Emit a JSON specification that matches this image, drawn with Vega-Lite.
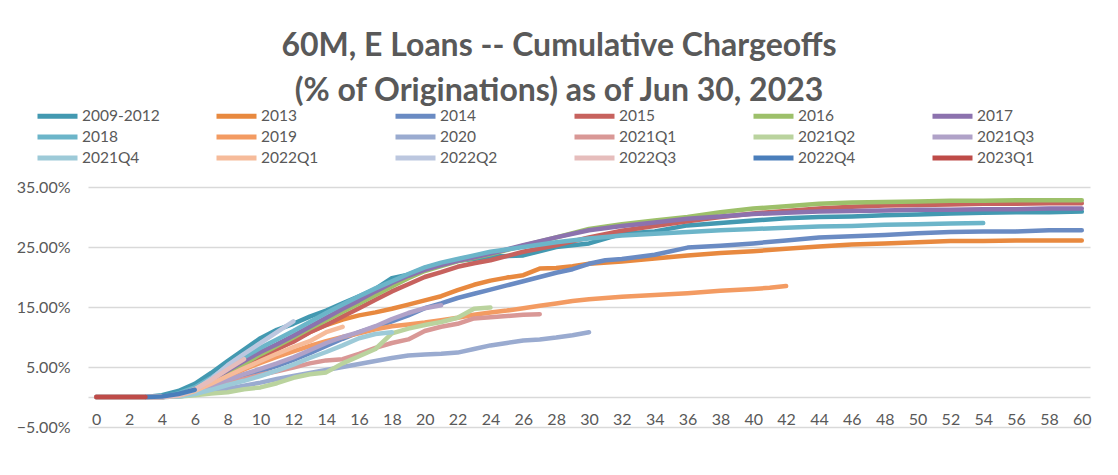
{
"$schema": "https://vega.github.io/schema/vega-lite/v6.json",
"width": 1002, "height": 240,
"autosize": {"type": "none"},
"padding": {"left": 88, "top": 187, "right": 28, "bottom": 48},
"background": "white",
"title": {"text": ["60M, E Loans -- Cumulative Chargeoffs", "(% of Originations) as of Jun 30, 2023"], "font": "Lato", "fontSize": 32, "fontWeight": "bold", "color": "#595959", "lineHeight": 45, "anchor": "middle", "offset": 0, "dx": -30},
"datasets": {
"d": [
{"series":"2009-2012","month":0,"pct":0},{"series":"2009-2012","month":3,"pct":0},{"series":"2009-2012","month":4,"pct":0.3},{"series":"2009-2012","month":5,"pct":1.0},{"series":"2009-2012","month":6,"pct":2.2},{"series":"2009-2012","month":7,"pct":4.0},{"series":"2009-2012","month":8,"pct":6.0},{"series":"2009-2012","month":9,"pct":7.9},{"series":"2009-2012","month":10,"pct":9.8},{"series":"2009-2012","month":11,"pct":11.2},{"series":"2009-2012","month":12,"pct":12.2},{"series":"2009-2012","month":13,"pct":13.4},{"series":"2009-2012","month":14,"pct":14.4},{"series":"2009-2012","month":15,"pct":15.6},{"series":"2009-2012","month":16,"pct":16.8},{"series":"2009-2012","month":17,"pct":18.0},{"series":"2009-2012","month":18,"pct":19.8},{"series":"2009-2012","month":19,"pct":20.4},{"series":"2009-2012","month":20,"pct":21.5},{"series":"2009-2012","month":21,"pct":22.2},{"series":"2009-2012","month":22,"pct":22.7},{"series":"2009-2012","month":23,"pct":23.0},{"series":"2009-2012","month":24,"pct":23.4},{"series":"2009-2012","month":26,"pct":23.6},{"series":"2009-2012","month":28,"pct":25.0},{"series":"2009-2012","month":30,"pct":25.6},{"series":"2009-2012","month":31,"pct":26.4},{"series":"2009-2012","month":32,"pct":27.2},{"series":"2009-2012","month":34,"pct":27.6},{"series":"2009-2012","month":36,"pct":28.6},{"series":"2009-2012","month":38,"pct":29.0},{"series":"2009-2012","month":40,"pct":29.4},{"series":"2009-2012","month":42,"pct":29.8},{"series":"2009-2012","month":44,"pct":30.0},{"series":"2009-2012","month":46,"pct":30.1},{"series":"2009-2012","month":48,"pct":30.3},{"series":"2009-2012","month":50,"pct":30.4},{"series":"2009-2012","month":52,"pct":30.6},{"series":"2009-2012","month":54,"pct":30.7},{"series":"2009-2012","month":56,"pct":30.8},{"series":"2009-2012","month":58,"pct":30.8},{"series":"2009-2012","month":60,"pct":30.9},
{"series":"2013","month":0,"pct":0},{"series":"2013","month":4,"pct":0},{"series":"2013","month":5,"pct":0.3},{"series":"2013","month":6,"pct":1.0},{"series":"2013","month":7,"pct":2.3},{"series":"2013","month":8,"pct":3.7},{"series":"2013","month":9,"pct":5.1},{"series":"2013","month":10,"pct":6.5},{"series":"2013","month":11,"pct":7.9},{"series":"2013","month":12,"pct":9.4},{"series":"2013","month":13,"pct":10.8},{"series":"2013","month":14,"pct":12.0},{"series":"2013","month":15,"pct":12.9},{"series":"2013","month":16,"pct":13.6},{"series":"2013","month":17,"pct":14.1},{"series":"2013","month":18,"pct":14.7},{"series":"2013","month":19,"pct":15.4},{"series":"2013","month":20,"pct":16.1},{"series":"2013","month":21,"pct":16.8},{"series":"2013","month":22,"pct":17.8},{"series":"2013","month":23,"pct":18.7},{"series":"2013","month":24,"pct":19.4},{"series":"2013","month":25,"pct":19.9},{"series":"2013","month":26,"pct":20.3},{"series":"2013","month":27,"pct":21.4},{"series":"2013","month":28,"pct":21.5},{"series":"2013","month":29,"pct":21.8},{"series":"2013","month":30,"pct":22.2},{"series":"2013","month":32,"pct":22.6},{"series":"2013","month":34,"pct":23.1},{"series":"2013","month":36,"pct":23.6},{"series":"2013","month":38,"pct":24.0},{"series":"2013","month":40,"pct":24.3},{"series":"2013","month":42,"pct":24.7},{"series":"2013","month":44,"pct":25.1},{"series":"2013","month":46,"pct":25.4},{"series":"2013","month":48,"pct":25.6},{"series":"2013","month":50,"pct":25.8},{"series":"2013","month":52,"pct":26.0},{"series":"2013","month":54,"pct":26.0},{"series":"2013","month":56,"pct":26.1},{"series":"2013","month":58,"pct":26.1},{"series":"2013","month":60,"pct":26.1},
{"series":"2014","month":0,"pct":0},{"series":"2014","month":4,"pct":0},{"series":"2014","month":5,"pct":0.2},{"series":"2014","month":6,"pct":0.7},{"series":"2014","month":7,"pct":1.5},{"series":"2014","month":8,"pct":2.5},{"series":"2014","month":9,"pct":3.4},{"series":"2014","month":10,"pct":4.3},{"series":"2014","month":11,"pct":5.2},{"series":"2014","month":12,"pct":6.2},{"series":"2014","month":13,"pct":7.3},{"series":"2014","month":14,"pct":8.5},{"series":"2014","month":15,"pct":9.7},{"series":"2014","month":16,"pct":10.8},{"series":"2014","month":17,"pct":11.7},{"series":"2014","month":18,"pct":12.6},{"series":"2014","month":19,"pct":13.6},{"series":"2014","month":20,"pct":14.8},{"series":"2014","month":21,"pct":15.6},{"series":"2014","month":22,"pct":16.5},{"series":"2014","month":23,"pct":17.2},{"series":"2014","month":24,"pct":17.9},{"series":"2014","month":25,"pct":18.6},{"series":"2014","month":26,"pct":19.3},{"series":"2014","month":27,"pct":20.0},{"series":"2014","month":28,"pct":20.7},{"series":"2014","month":29,"pct":21.3},{"series":"2014","month":30,"pct":22.2},{"series":"2014","month":31,"pct":22.8},{"series":"2014","month":32,"pct":23.0},{"series":"2014","month":34,"pct":23.7},{"series":"2014","month":36,"pct":24.9},{"series":"2014","month":38,"pct":25.2},{"series":"2014","month":40,"pct":25.6},{"series":"2014","month":42,"pct":26.1},{"series":"2014","month":44,"pct":26.6},{"series":"2014","month":46,"pct":26.8},{"series":"2014","month":48,"pct":27.0},{"series":"2014","month":50,"pct":27.3},{"series":"2014","month":52,"pct":27.5},{"series":"2014","month":54,"pct":27.6},{"series":"2014","month":56,"pct":27.6},{"series":"2014","month":58,"pct":27.8},{"series":"2014","month":60,"pct":27.8},
{"series":"2015","month":0,"pct":0},{"series":"2015","month":4,"pct":0},{"series":"2015","month":5,"pct":0.3},{"series":"2015","month":6,"pct":1.0},{"series":"2015","month":7,"pct":2.5},{"series":"2015","month":8,"pct":4.0},{"series":"2015","month":9,"pct":5.5},{"series":"2015","month":10,"pct":6.8},{"series":"2015","month":11,"pct":8.0},{"series":"2015","month":12,"pct":9.2},{"series":"2015","month":13,"pct":10.8},{"series":"2015","month":14,"pct":12.0},{"series":"2015","month":15,"pct":13.4},{"series":"2015","month":16,"pct":14.8},{"series":"2015","month":17,"pct":16.2},{"series":"2015","month":18,"pct":17.6},{"series":"2015","month":19,"pct":18.8},{"series":"2015","month":20,"pct":20.0},{"series":"2015","month":21,"pct":20.8},{"series":"2015","month":22,"pct":21.7},{"series":"2015","month":23,"pct":22.3},{"series":"2015","month":24,"pct":22.8},{"series":"2015","month":26,"pct":24.2},{"series":"2015","month":28,"pct":25.3},{"series":"2015","month":30,"pct":26.6},{"series":"2015","month":32,"pct":27.7},{"series":"2015","month":34,"pct":28.5},{"series":"2015","month":36,"pct":29.3},{"series":"2015","month":38,"pct":30.0},{"series":"2015","month":40,"pct":30.6},{"series":"2015","month":42,"pct":31.0},{"series":"2015","month":44,"pct":31.4},{"series":"2015","month":46,"pct":31.7},{"series":"2015","month":48,"pct":31.9},{"series":"2015","month":50,"pct":32.0},{"series":"2015","month":52,"pct":32.1},{"series":"2015","month":54,"pct":32.2},{"series":"2015","month":56,"pct":32.2},{"series":"2015","month":58,"pct":32.3},{"series":"2015","month":60,"pct":32.3},
{"series":"2016","month":0,"pct":0},{"series":"2016","month":4,"pct":0},{"series":"2016","month":5,"pct":0.3},{"series":"2016","month":6,"pct":1.0},{"series":"2016","month":7,"pct":2.4},{"series":"2016","month":8,"pct":4.0},{"series":"2016","month":9,"pct":5.5},{"series":"2016","month":10,"pct":7.1},{"series":"2016","month":11,"pct":8.5},{"series":"2016","month":12,"pct":9.9},{"series":"2016","month":13,"pct":11.4},{"series":"2016","month":14,"pct":12.8},{"series":"2016","month":15,"pct":14.2},{"series":"2016","month":16,"pct":15.6},{"series":"2016","month":17,"pct":17.0},{"series":"2016","month":18,"pct":18.4},{"series":"2016","month":19,"pct":19.8},{"series":"2016","month":20,"pct":21.0},{"series":"2016","month":21,"pct":21.8},{"series":"2016","month":22,"pct":22.6},{"series":"2016","month":23,"pct":23.2},{"series":"2016","month":24,"pct":23.8},{"series":"2016","month":26,"pct":25.2},{"series":"2016","month":28,"pct":26.6},{"series":"2016","month":30,"pct":28.0},{"series":"2016","month":32,"pct":28.8},{"series":"2016","month":34,"pct":29.4},{"series":"2016","month":36,"pct":30.0},{"series":"2016","month":38,"pct":30.8},{"series":"2016","month":40,"pct":31.4},{"series":"2016","month":42,"pct":31.8},{"series":"2016","month":44,"pct":32.2},{"series":"2016","month":46,"pct":32.4},{"series":"2016","month":48,"pct":32.5},{"series":"2016","month":50,"pct":32.6},{"series":"2016","month":52,"pct":32.7},{"series":"2016","month":54,"pct":32.7},{"series":"2016","month":56,"pct":32.8},{"series":"2016","month":58,"pct":32.8},{"series":"2016","month":60,"pct":32.8},
{"series":"2017","month":0,"pct":0},{"series":"2017","month":4,"pct":0},{"series":"2017","month":5,"pct":0.4},{"series":"2017","month":6,"pct":1.2},{"series":"2017","month":7,"pct":2.8},{"series":"2017","month":8,"pct":4.4},{"series":"2017","month":9,"pct":6.0},{"series":"2017","month":10,"pct":7.5},{"series":"2017","month":11,"pct":8.8},{"series":"2017","month":12,"pct":10.2},{"series":"2017","month":13,"pct":11.7},{"series":"2017","month":14,"pct":13.2},{"series":"2017","month":15,"pct":14.7},{"series":"2017","month":16,"pct":16.1},{"series":"2017","month":17,"pct":17.6},{"series":"2017","month":18,"pct":19.0},{"series":"2017","month":19,"pct":20.2},{"series":"2017","month":20,"pct":21.2},{"series":"2017","month":21,"pct":22.0},{"series":"2017","month":22,"pct":22.7},{"series":"2017","month":23,"pct":23.3},{"series":"2017","month":24,"pct":23.9},{"series":"2017","month":26,"pct":25.3},{"series":"2017","month":28,"pct":26.6},{"series":"2017","month":30,"pct":27.8},{"series":"2017","month":32,"pct":28.5},{"series":"2017","month":34,"pct":29.1},{"series":"2017","month":36,"pct":29.7},{"series":"2017","month":38,"pct":30.1},{"series":"2017","month":40,"pct":30.5},{"series":"2017","month":42,"pct":30.7},{"series":"2017","month":44,"pct":30.9},{"series":"2017","month":46,"pct":31.0},{"series":"2017","month":48,"pct":31.1},{"series":"2017","month":50,"pct":31.2},{"series":"2017","month":52,"pct":31.2},{"series":"2017","month":54,"pct":31.3},{"series":"2017","month":56,"pct":31.3},{"series":"2017","month":58,"pct":31.4},{"series":"2017","month":60,"pct":31.4},
{"series":"2018","month":0,"pct":0},{"series":"2018","month":4,"pct":0},{"series":"2018","month":5,"pct":0.6},{"series":"2018","month":6,"pct":1.6},{"series":"2018","month":7,"pct":3.2},{"series":"2018","month":8,"pct":5.0},{"series":"2018","month":9,"pct":6.6},{"series":"2018","month":10,"pct":8.2},{"series":"2018","month":11,"pct":9.6},{"series":"2018","month":12,"pct":11.0},{"series":"2018","month":13,"pct":12.5},{"series":"2018","month":14,"pct":14.0},{"series":"2018","month":15,"pct":15.4},{"series":"2018","month":16,"pct":16.8},{"series":"2018","month":17,"pct":18.1},{"series":"2018","month":18,"pct":19.3},{"series":"2018","month":19,"pct":20.5},{"series":"2018","month":20,"pct":21.6},{"series":"2018","month":21,"pct":22.4},{"series":"2018","month":22,"pct":23.0},{"series":"2018","month":23,"pct":23.6},{"series":"2018","month":24,"pct":24.2},{"series":"2018","month":26,"pct":25.0},{"series":"2018","month":28,"pct":25.8},{"series":"2018","month":30,"pct":26.4},{"series":"2018","month":32,"pct":26.9},{"series":"2018","month":34,"pct":27.2},{"series":"2018","month":36,"pct":27.5},{"series":"2018","month":38,"pct":27.8},{"series":"2018","month":40,"pct":28.0},{"series":"2018","month":42,"pct":28.2},{"series":"2018","month":44,"pct":28.4},{"series":"2018","month":46,"pct":28.5},{"series":"2018","month":48,"pct":28.7},{"series":"2018","month":50,"pct":28.8},{"series":"2018","month":52,"pct":28.9},{"series":"2018","month":54,"pct":29.0},
{"series":"2019","month":0,"pct":0},{"series":"2019","month":4,"pct":0},{"series":"2019","month":5,"pct":0.2},{"series":"2019","month":6,"pct":0.9},{"series":"2019","month":7,"pct":2.1},{"series":"2019","month":8,"pct":3.4},{"series":"2019","month":9,"pct":4.6},{"series":"2019","month":10,"pct":5.7},{"series":"2019","month":11,"pct":6.7},{"series":"2019","month":12,"pct":7.6},{"series":"2019","month":13,"pct":8.5},{"series":"2019","month":14,"pct":9.3},{"series":"2019","month":15,"pct":10.0},{"series":"2019","month":16,"pct":10.6},{"series":"2019","month":17,"pct":11.3},{"series":"2019","month":18,"pct":11.8},{"series":"2019","month":19,"pct":12.1},{"series":"2019","month":20,"pct":12.4},{"series":"2019","month":21,"pct":12.8},{"series":"2019","month":22,"pct":13.2},{"series":"2019","month":23,"pct":13.7},{"series":"2019","month":24,"pct":14.1},{"series":"2019","month":25,"pct":14.4},{"series":"2019","month":26,"pct":14.8},{"series":"2019","month":27,"pct":15.2},{"series":"2019","month":28,"pct":15.6},{"series":"2019","month":29,"pct":16.0},{"series":"2019","month":30,"pct":16.3},{"series":"2019","month":32,"pct":16.7},{"series":"2019","month":34,"pct":17.0},{"series":"2019","month":36,"pct":17.3},{"series":"2019","month":38,"pct":17.7},{"series":"2019","month":40,"pct":18.0},{"series":"2019","month":41,"pct":18.2},{"series":"2019","month":42,"pct":18.5},
{"series":"2020","month":0,"pct":0},{"series":"2020","month":4,"pct":0},{"series":"2020","month":5,"pct":0.1},{"series":"2020","month":6,"pct":0.4},{"series":"2020","month":7,"pct":0.9},{"series":"2020","month":8,"pct":1.4},{"series":"2020","month":9,"pct":1.9},{"series":"2020","month":10,"pct":2.4},{"series":"2020","month":11,"pct":3.0},{"series":"2020","month":12,"pct":3.5},{"series":"2020","month":13,"pct":4.0},{"series":"2020","month":14,"pct":4.5},{"series":"2020","month":15,"pct":5.0},{"series":"2020","month":16,"pct":5.5},{"series":"2020","month":17,"pct":6.0},{"series":"2020","month":18,"pct":6.5},{"series":"2020","month":19,"pct":6.9},{"series":"2020","month":20,"pct":7.1},{"series":"2020","month":21,"pct":7.2},{"series":"2020","month":22,"pct":7.4},{"series":"2020","month":23,"pct":8.0},{"series":"2020","month":24,"pct":8.6},{"series":"2020","month":25,"pct":9.0},{"series":"2020","month":26,"pct":9.4},{"series":"2020","month":27,"pct":9.6},{"series":"2020","month":28,"pct":9.9},{"series":"2020","month":29,"pct":10.3},{"series":"2020","month":30,"pct":10.8},
{"series":"2021Q1","month":0,"pct":0},{"series":"2021Q1","month":4,"pct":0},{"series":"2021Q1","month":5,"pct":0.2},{"series":"2021Q1","month":6,"pct":0.7},{"series":"2021Q1","month":7,"pct":1.5},{"series":"2021Q1","month":8,"pct":2.3},{"series":"2021Q1","month":9,"pct":3.0},{"series":"2021Q1","month":10,"pct":3.7},{"series":"2021Q1","month":11,"pct":4.3},{"series":"2021Q1","month":12,"pct":4.9},{"series":"2021Q1","month":13,"pct":5.6},{"series":"2021Q1","month":14,"pct":6.1},{"series":"2021Q1","month":15,"pct":6.3},{"series":"2021Q1","month":16,"pct":7.2},{"series":"2021Q1","month":17,"pct":8.2},{"series":"2021Q1","month":18,"pct":9.0},{"series":"2021Q1","month":19,"pct":9.6},{"series":"2021Q1","month":20,"pct":11.0},{"series":"2021Q1","month":21,"pct":11.7},{"series":"2021Q1","month":22,"pct":12.2},{"series":"2021Q1","month":23,"pct":13.1},{"series":"2021Q1","month":24,"pct":13.3},{"series":"2021Q1","month":25,"pct":13.5},{"series":"2021Q1","month":26,"pct":13.7},{"series":"2021Q1","month":27,"pct":13.8},
{"series":"2021Q2","month":0,"pct":0},{"series":"2021Q2","month":4,"pct":0},{"series":"2021Q2","month":5,"pct":0.1},{"series":"2021Q2","month":6,"pct":0.3},{"series":"2021Q2","month":7,"pct":0.6},{"series":"2021Q2","month":8,"pct":0.8},{"series":"2021Q2","month":9,"pct":1.3},{"series":"2021Q2","month":10,"pct":1.6},{"series":"2021Q2","month":11,"pct":2.3},{"series":"2021Q2","month":12,"pct":3.2},{"series":"2021Q2","month":13,"pct":3.8},{"series":"2021Q2","month":14,"pct":4.1},{"series":"2021Q2","month":15,"pct":5.6},{"series":"2021Q2","month":16,"pct":6.8},{"series":"2021Q2","month":17,"pct":8.0},{"series":"2021Q2","month":18,"pct":10.6},{"series":"2021Q2","month":19,"pct":11.4},{"series":"2021Q2","month":20,"pct":12.0},{"series":"2021Q2","month":21,"pct":12.5},{"series":"2021Q2","month":22,"pct":13.2},{"series":"2021Q2","month":23,"pct":14.7},{"series":"2021Q2","month":24,"pct":14.9},
{"series":"2021Q3","month":0,"pct":0},{"series":"2021Q3","month":4,"pct":0},{"series":"2021Q3","month":5,"pct":0.2},{"series":"2021Q3","month":6,"pct":0.8},{"series":"2021Q3","month":7,"pct":1.8},{"series":"2021Q3","month":8,"pct":2.8},{"series":"2021Q3","month":9,"pct":3.8},{"series":"2021Q3","month":10,"pct":4.7},{"series":"2021Q3","month":11,"pct":5.6},{"series":"2021Q3","month":12,"pct":6.6},{"series":"2021Q3","month":13,"pct":7.8},{"series":"2021Q3","month":14,"pct":9.0},{"series":"2021Q3","month":15,"pct":10.0},{"series":"2021Q3","month":16,"pct":10.8},{"series":"2021Q3","month":17,"pct":11.8},{"series":"2021Q3","month":18,"pct":13.0},{"series":"2021Q3","month":19,"pct":14.0},{"series":"2021Q3","month":20,"pct":14.8},{"series":"2021Q3","month":21,"pct":15.3},
{"series":"2021Q4","month":0,"pct":0},{"series":"2021Q4","month":4,"pct":0},{"series":"2021Q4","month":5,"pct":0.1},{"series":"2021Q4","month":6,"pct":0.5},{"series":"2021Q4","month":7,"pct":1.2},{"series":"2021Q4","month":8,"pct":2.0},{"series":"2021Q4","month":9,"pct":2.7},{"series":"2021Q4","month":10,"pct":3.5},{"series":"2021Q4","month":11,"pct":4.4},{"series":"2021Q4","month":12,"pct":5.4},{"series":"2021Q4","month":13,"pct":6.5},{"series":"2021Q4","month":14,"pct":7.5},{"series":"2021Q4","month":15,"pct":8.6},{"series":"2021Q4","month":16,"pct":9.8},{"series":"2021Q4","month":17,"pct":10.5},{"series":"2021Q4","month":18,"pct":10.8},
{"series":"2022Q1","month":0,"pct":0},{"series":"2022Q1","month":4,"pct":0},{"series":"2022Q1","month":5,"pct":0.2},{"series":"2022Q1","month":6,"pct":1.0},{"series":"2022Q1","month":7,"pct":2.2},{"series":"2022Q1","month":8,"pct":3.5},{"series":"2022Q1","month":9,"pct":4.8},{"series":"2022Q1","month":10,"pct":6.0},{"series":"2022Q1","month":11,"pct":7.2},{"series":"2022Q1","month":12,"pct":8.3},{"series":"2022Q1","month":13,"pct":9.3},{"series":"2022Q1","month":14,"pct":10.8},{"series":"2022Q1","month":15,"pct":11.7},
{"series":"2022Q2","month":0,"pct":0},{"series":"2022Q2","month":4,"pct":0},{"series":"2022Q2","month":5,"pct":0.3},{"series":"2022Q2","month":6,"pct":1.2},{"series":"2022Q2","month":7,"pct":3.0},{"series":"2022Q2","month":8,"pct":5.3},{"series":"2022Q2","month":9,"pct":7.2},{"series":"2022Q2","month":10,"pct":9.0},{"series":"2022Q2","month":11,"pct":10.8},{"series":"2022Q2","month":12,"pct":12.6},
{"series":"2022Q3","month":0,"pct":0},{"series":"2022Q3","month":4,"pct":0},{"series":"2022Q3","month":5,"pct":0.3},{"series":"2022Q3","month":6,"pct":1.3},{"series":"2022Q3","month":7,"pct":2.8},{"series":"2022Q3","month":8,"pct":4.6},{"series":"2022Q3","month":9,"pct":6.3},
{"series":"2022Q4","month":3,"pct":0},{"series":"2022Q4","month":4,"pct":0.1},{"series":"2022Q4","month":5,"pct":0.5},{"series":"2022Q4","month":6,"pct":1.2},
{"series":"2023Q1","month":0,"pct":0},{"series":"2023Q1","month":1,"pct":0},{"series":"2023Q1","month":2,"pct":0},{"series":"2023Q1","month":3,"pct":0}
]
},
"data": {"name": "d"},
"mark": {"type": "line", "strokeWidth": 4.5, "strokeCap": "round", "strokeJoin": "round"},
"encoding": {
"x": {"field": "month", "type": "quantitative", "scale": {"domain": [-0.5, 60.5], "nice": false, "zero": false},
 "axis": {"values": [0,2,4,6,8,10,12,14,16,18,20,22,24,26,28,30,32,34,36,38,40,42,44,46,48,50,52,54,56,58,60], "title": null, "offset": -30, "labelFont": "Lato", "labelFontSize": 16, "labelColor": "#595959", "ticks": false, "domainColor": "#d9d9d9", "domainWidth": 1.3, "grid": false, "labelPadding": 14, "labelFlush": false, "labelOverlap": false}},
"y": {"field": "pct", "type": "quantitative", "scale": {"domain": [-5, 35], "nice": false, "zero": false},
 "axis": {"values": [-5, 5, 15, 25, 35], "labelExpr": "format(datum.value, '.2f') + '%'", "title": null, "ticks": false, "domain": false, "gridColor": "#d9d9d9", "gridWidth": 1.3, "labelPadding": 18, "labelFont": "Lato", "labelFontSize": 16, "labelColor": "#595959"}},
"color": {"field": "series", "type": "nominal",
 "scale": {"domain": ["2009-2012","2013","2014","2015","2016","2017","2018","2019","2020","2021Q1","2021Q2","2021Q3","2021Q4","2022Q1","2022Q2","2022Q3","2022Q4","2023Q1"],
  "range": ["#4399B1","#E8893F","#6A8BC3","#C7625E","#9DC06A","#8C72AE","#6CB5C9","#F39B62","#9AABD0","#D99896","#BAD39E","#B0A2C8","#9DCAD8","#F6BB9A","#BCC7DF","#E6BDBC","#4A7EBB","#BE4B48"]},
 "legend": {"orient": "none", "legendX": -53, "legendY": -79, "direction": "horizontal", "columns": 6, "title": null, "symbolType": "stroke", "symbolSize": 1600, "symbolStrokeWidth": 5, "labelFont": "Lato", "labelFontSize": 15.5, "labelColor": "#595959", "labelOffset": 2, "columnPadding": 54, "rowPadding": 4, "clipHeight": 16, "gridAlign": "all", "padding": 0, "labelLimit": 200}}
},
"config": {"view": {"stroke": null}}
}
